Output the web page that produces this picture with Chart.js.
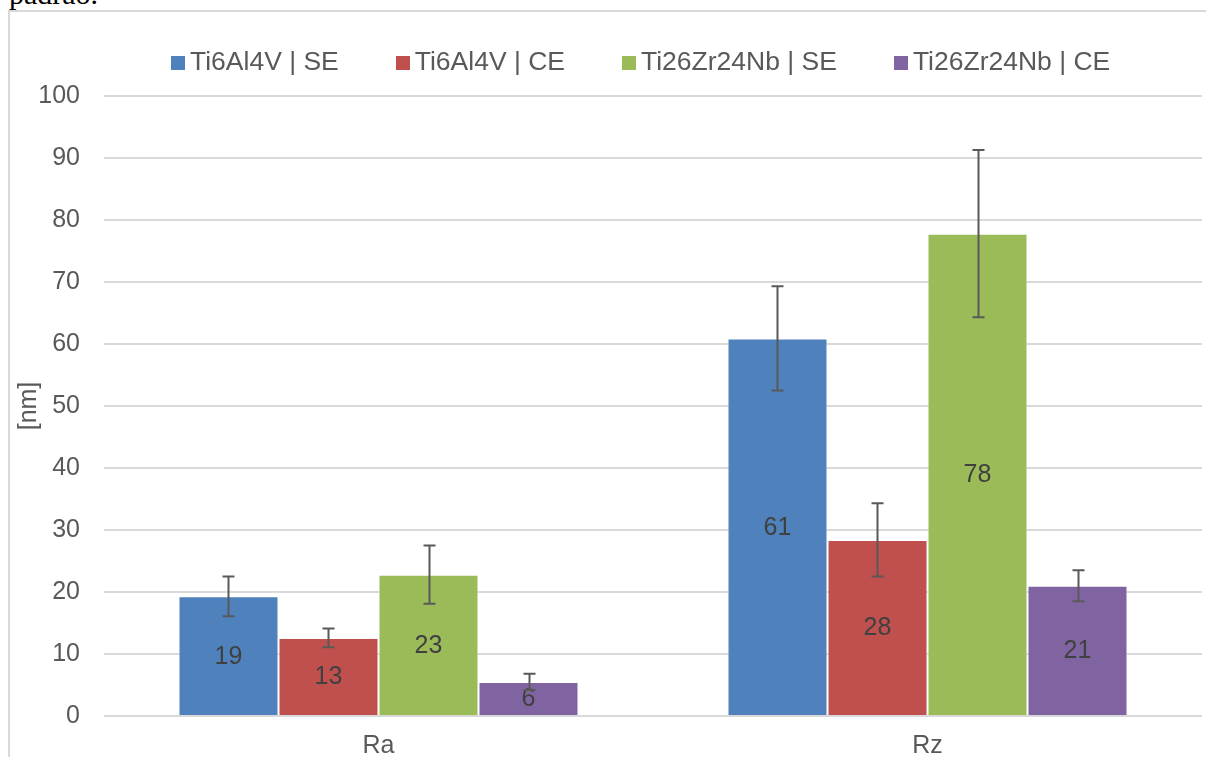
<!DOCTYPE html>
<html lang="en">
<head>
<meta charset="UTF-8">
<title>Rugosidade Ra / Rz</title>
<script src="https://cdn.jsdelivr.net/npm/chart.js"></script>
<style>
    html, body { margin: 0; padding: 0; background: #fff; overflow: hidden; }
    body { width: 1206px; height: 757px; position: relative; font-family: "Liberation Sans", Arial, sans-serif; }
    #caption { position: absolute; left: 9px; top: -21px; font-family: "Liberation Serif", "Times New Roman", serif; font-size: 30px; line-height: 30px; color: #000; white-space: nowrap; }
    #frame { position: absolute; left: 8px; top: 10px; width: 1300px; height: 800px; border-left: 2px solid #d9d9d9; border-top: 2px solid #d9d9d9; }
    #legend { position: absolute; left: 171px; top: 46px; display: flex; gap: 57px; font-size: 26.5px; line-height: 30px; color: #595959; white-space: nowrap; }
    #legend .item { display: flex; align-items: center; }
    #legend .box { width: 14px; height: 14px; margin: 3px 5px 0 0; }
    #wrap { position: absolute; left: 0; top: 0; width: 1206px; height: 757px; }
</style>
</head>
<body>
<div id="caption">padrão.</div>
<div id="frame"></div>
<div id="wrap"><canvas id="roughChart"></canvas></div>
<div id="legend"></div>
<script>
    // roughness parameters on the x axis
    const categories = ['Ra', 'Rz'];
    const seriesNames = ['Ti6Al4V | SE', 'Ti6Al4V | CE', 'Ti26Zr24Nb | SE', 'Ti26Zr24Nb | CE'];
    const seriesColors = ['#4F81BD', '#C0504D', '#9BBB59', '#8064A2'];

    // mean values [nm]
    const ti6al4vSE = [19.3, 60.9];
    const ti6al4vCE = [12.6, 28.4];
    const ti26zrSE = [22.8, 77.8];
    const ti26zrCE = [5.5, 21.0];

    // standard deviations [nm]
    const ti6al4vSEErr = [3.2, 8.4];
    const ti6al4vCEErr = [1.5, 5.9];
    const ti26zrSEErr = [4.7, 13.5];
    const ti26zrCEErr = [1.3, 2.5];

    const yMin = 0, yMax = 100, yStep = 10;

    const values = [ti6al4vSE, ti6al4vCE, ti26zrSE, ti26zrCE];
    const errors = [ti6al4vSEErr, ti6al4vCEErr, ti26zrSEErr, ti26zrCEErr];

    Chart.defaults.font.family = "'Liberation Sans', Arial, sans-serif";

    // legend row
    const legendEl = document.getElementById('legend');
    seriesNames.forEach((name, i) => {
        const item = document.createElement('div');
        item.className = 'item';
        const box = document.createElement('span');
        box.className = 'box';
        box.style.background = seriesColors[i];
        const txt = document.createElement('span');
        txt.textContent = name;
        item.appendChild(box);
        item.appendChild(txt);
        legendEl.appendChild(item);
    });

    // value labels in the middle of each bar, then the error whiskers
    const barExtras = {
        id: 'barExtras',
        afterDatasetsDraw(chart) {
            const ctx = chart.ctx;
            const y = chart.scales.y;
            ctx.save();
            ctx.font = "25px 'Liberation Sans', Arial, sans-serif";
            ctx.fillStyle = '#404040';
            ctx.textAlign = 'center';
            ctx.textBaseline = 'middle';
            chart.data.datasets.forEach((ds, i) => {
                chart.getDatasetMeta(i).data.forEach((bar, j) => {
                    ctx.fillText(Math.round(ds.data[j]), bar.x, (bar.y + bar.base) / 2 + 1);
                });
            });

            ctx.strokeStyle = '#595959';
            ctx.lineWidth = 2;
            chart.data.datasets.forEach((ds, i) => {
                chart.getDatasetMeta(i).data.forEach((bar, j) => {
                    const v = ds.data[j], e = ds.errors[j];
                    const x = Math.round(bar.x) + 0.5;
                    const top = y.getPixelForValue(v + e);
                    const bot = y.getPixelForValue(v - e);
                    ctx.beginPath();
                    ctx.moveTo(x, top); ctx.lineTo(x, bot);
                    ctx.moveTo(x - 6, top); ctx.lineTo(x + 6, top);
                    ctx.moveTo(x - 6, bot); ctx.lineTo(x + 6, bot);
                    ctx.stroke();
                });
            });
            ctx.restore();
        }
    };

    new Chart(document.getElementById('roughChart'), {
        type: 'bar',
        data: {
            labels: categories,
            datasets: seriesNames.map((name, i) => ({
                label: name,
                data: values[i],
                errors: errors[i],
                backgroundColor: seriesColors[i],
                borderColor: 'rgba(255,255,255,0.5)',
                borderWidth: 1,
                barPercentage: 1,
                categoryPercentage: 0.7286
            }))
        },
        options: {
            responsive: true,
            maintainAspectRatio: false,
            animation: false,
            layout: { padding: { top: 96, right: 4, bottom: 0, left: 0 } },
            plugins: {
                legend: { display: false },
                tooltip: { enabled: false }
            },
            scales: {
                x: {
                    grid: { display: false },
                    border: { display: false },
                    ticks: { color: '#595959', font: { size: 25 }, padding: 7 },
                    afterFit(scale) { scale.height = 41; }
                },
                y: {
                    min: yMin,
                    max: yMax,
                    ticks: { stepSize: yStep, color: '#595959', font: { size: 25 }, padding: 24 },
                    grid: { color: '#d9d9d9', lineWidth: 2, drawTicks: false },
                    border: { display: false },
                    title: { display: true, text: '[nm]', color: '#595959', font: { size: 25 }, padding: { top: 14, bottom: 0 } },
                    afterFit(scale) { scale.width = 104; }
                }
            }
        },
        plugins: [barExtras]
    });
</script>
</body>
</html>
